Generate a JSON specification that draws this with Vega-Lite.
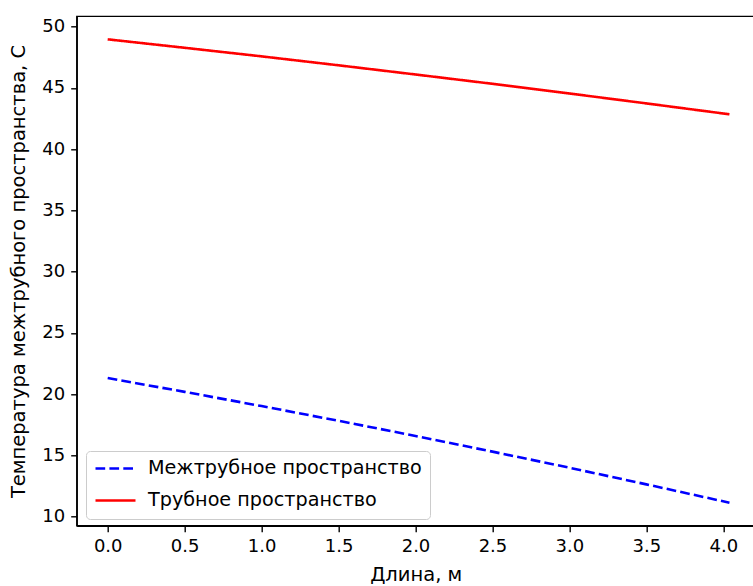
{
  "$schema": "https://vega.github.io/schema/vega-lite/v6.json",
  "autosize": {"type": "none"},
  "padding": {"left": 76.7, "top": 16.3, "right": 0, "bottom": 60.3},
  "width": 678,
  "height": 509.4,
  "background": "white",
  "config": {
    "font": "DejaVu Sans",
    "view": {"stroke": "black", "strokeWidth": 1.4},
    "axis": {
      "grid": false,
      "domainColor": "black",
      "domainWidth": 1.4,
      "tickColor": "black",
      "tickWidth": 1.4,
      "tickSize": 6,
      "labelPadding": 6,
      "labelFont": "DejaVu Sans",
      "labelFontSize": 18,
      "labelColor": "black",
      "titleFont": "DejaVu Sans",
      "titleFontSize": 19.5,
      "titleFontWeight": "normal",
      "titleColor": "black"
    },
    "legend": {
      "title": null,
      "orient": "none",
      "legendX": 9.3,
      "legendY": 434.7,
      "symbolType": "stroke",
      "symbolSize": 1600,
      "symbolStrokeWidth": 2.6,
      "labelFontSize": 19.2,
      "labelFont": "DejaVu Sans",
      "labelColor": "black",
      "labelLimit": 500,
      "labelOffset": 11,
      "clipHeight": 19,
      "rowPadding": 12,
      "padding": 8,
      "fillColor": "rgba(255,255,255,0.8)",
      "strokeColor": "#cccccc",
      "cornerRadius": 4
    }
  },
  "data": {
    "values": [
      {"x": 0.0, "t": 21.32, "s": "Межтрубное пространство"},
      {"x": 0.5, "t": 20.19, "s": "Межтрубное пространство"},
      {"x": 1.0, "t": 19.03, "s": "Межтрубное пространство"},
      {"x": 1.5, "t": 17.83, "s": "Межтрубное пространство"},
      {"x": 2.0, "t": 16.59, "s": "Межтрубное пространство"},
      {"x": 2.5, "t": 15.31, "s": "Межтрубное пространство"},
      {"x": 3.0, "t": 14.0, "s": "Межтрубное пространство"},
      {"x": 3.5, "t": 12.64, "s": "Межтрубное пространство"},
      {"x": 4.04, "t": 11.14, "s": "Межтрубное пространство"},
      {"x": 0.0, "t": 48.97, "s": "Трубное пространство"},
      {"x": 0.5, "t": 48.28, "s": "Трубное пространство"},
      {"x": 1.0, "t": 47.58, "s": "Трубное пространство"},
      {"x": 1.5, "t": 46.85, "s": "Трубное пространство"},
      {"x": 2.0, "t": 46.1, "s": "Трубное пространство"},
      {"x": 2.5, "t": 45.34, "s": "Трубное пространство"},
      {"x": 3.0, "t": 44.55, "s": "Трубное пространство"},
      {"x": 3.5, "t": 43.74, "s": "Трубное пространство"},
      {"x": 4.04, "t": 42.85, "s": "Трубное пространство"}
    ]
  },
  "mark": {"type": "line", "strokeWidth": 2.6, "clip": true},
  "encoding": {
    "x": {
      "field": "x",
      "type": "quantitative",
      "scale": {"domain": [-0.2014, 4.204], "nice": false, "zero": false},
      "axis": {
        "title": "Длина, м",
        "values": [0, 0.5, 1, 1.5, 2, 2.5, 3, 3.5, 4],
        "format": ".1f",
        "titlePadding": 10
      }
    },
    "y": {
      "field": "t",
      "type": "quantitative",
      "scale": {"domain": [9.265, 50.85], "nice": false, "zero": false},
      "axis": {
        "title": "Температура межтрубного пространства, С",
        "values": [10, 15, 20, 25, 30, 35, 40, 45, 50],
        "titlePadding": 13
      }
    },
    "color": {
      "field": "s",
      "type": "nominal",
      "scale": {
        "domain": ["Межтрубное пространство", "Трубное пространство"],
        "range": ["#0000ff", "#ff0000"]
      },
      "legend": {"title": null}
    },
    "strokeDash": {
      "field": "s",
      "type": "nominal",
      "scale": {
        "domain": ["Межтрубное пространство", "Трубное пространство"],
        "range": [[9.7, 4.2], [1, 0]]
      },
      "legend": {"title": null}
    }
  }
}
